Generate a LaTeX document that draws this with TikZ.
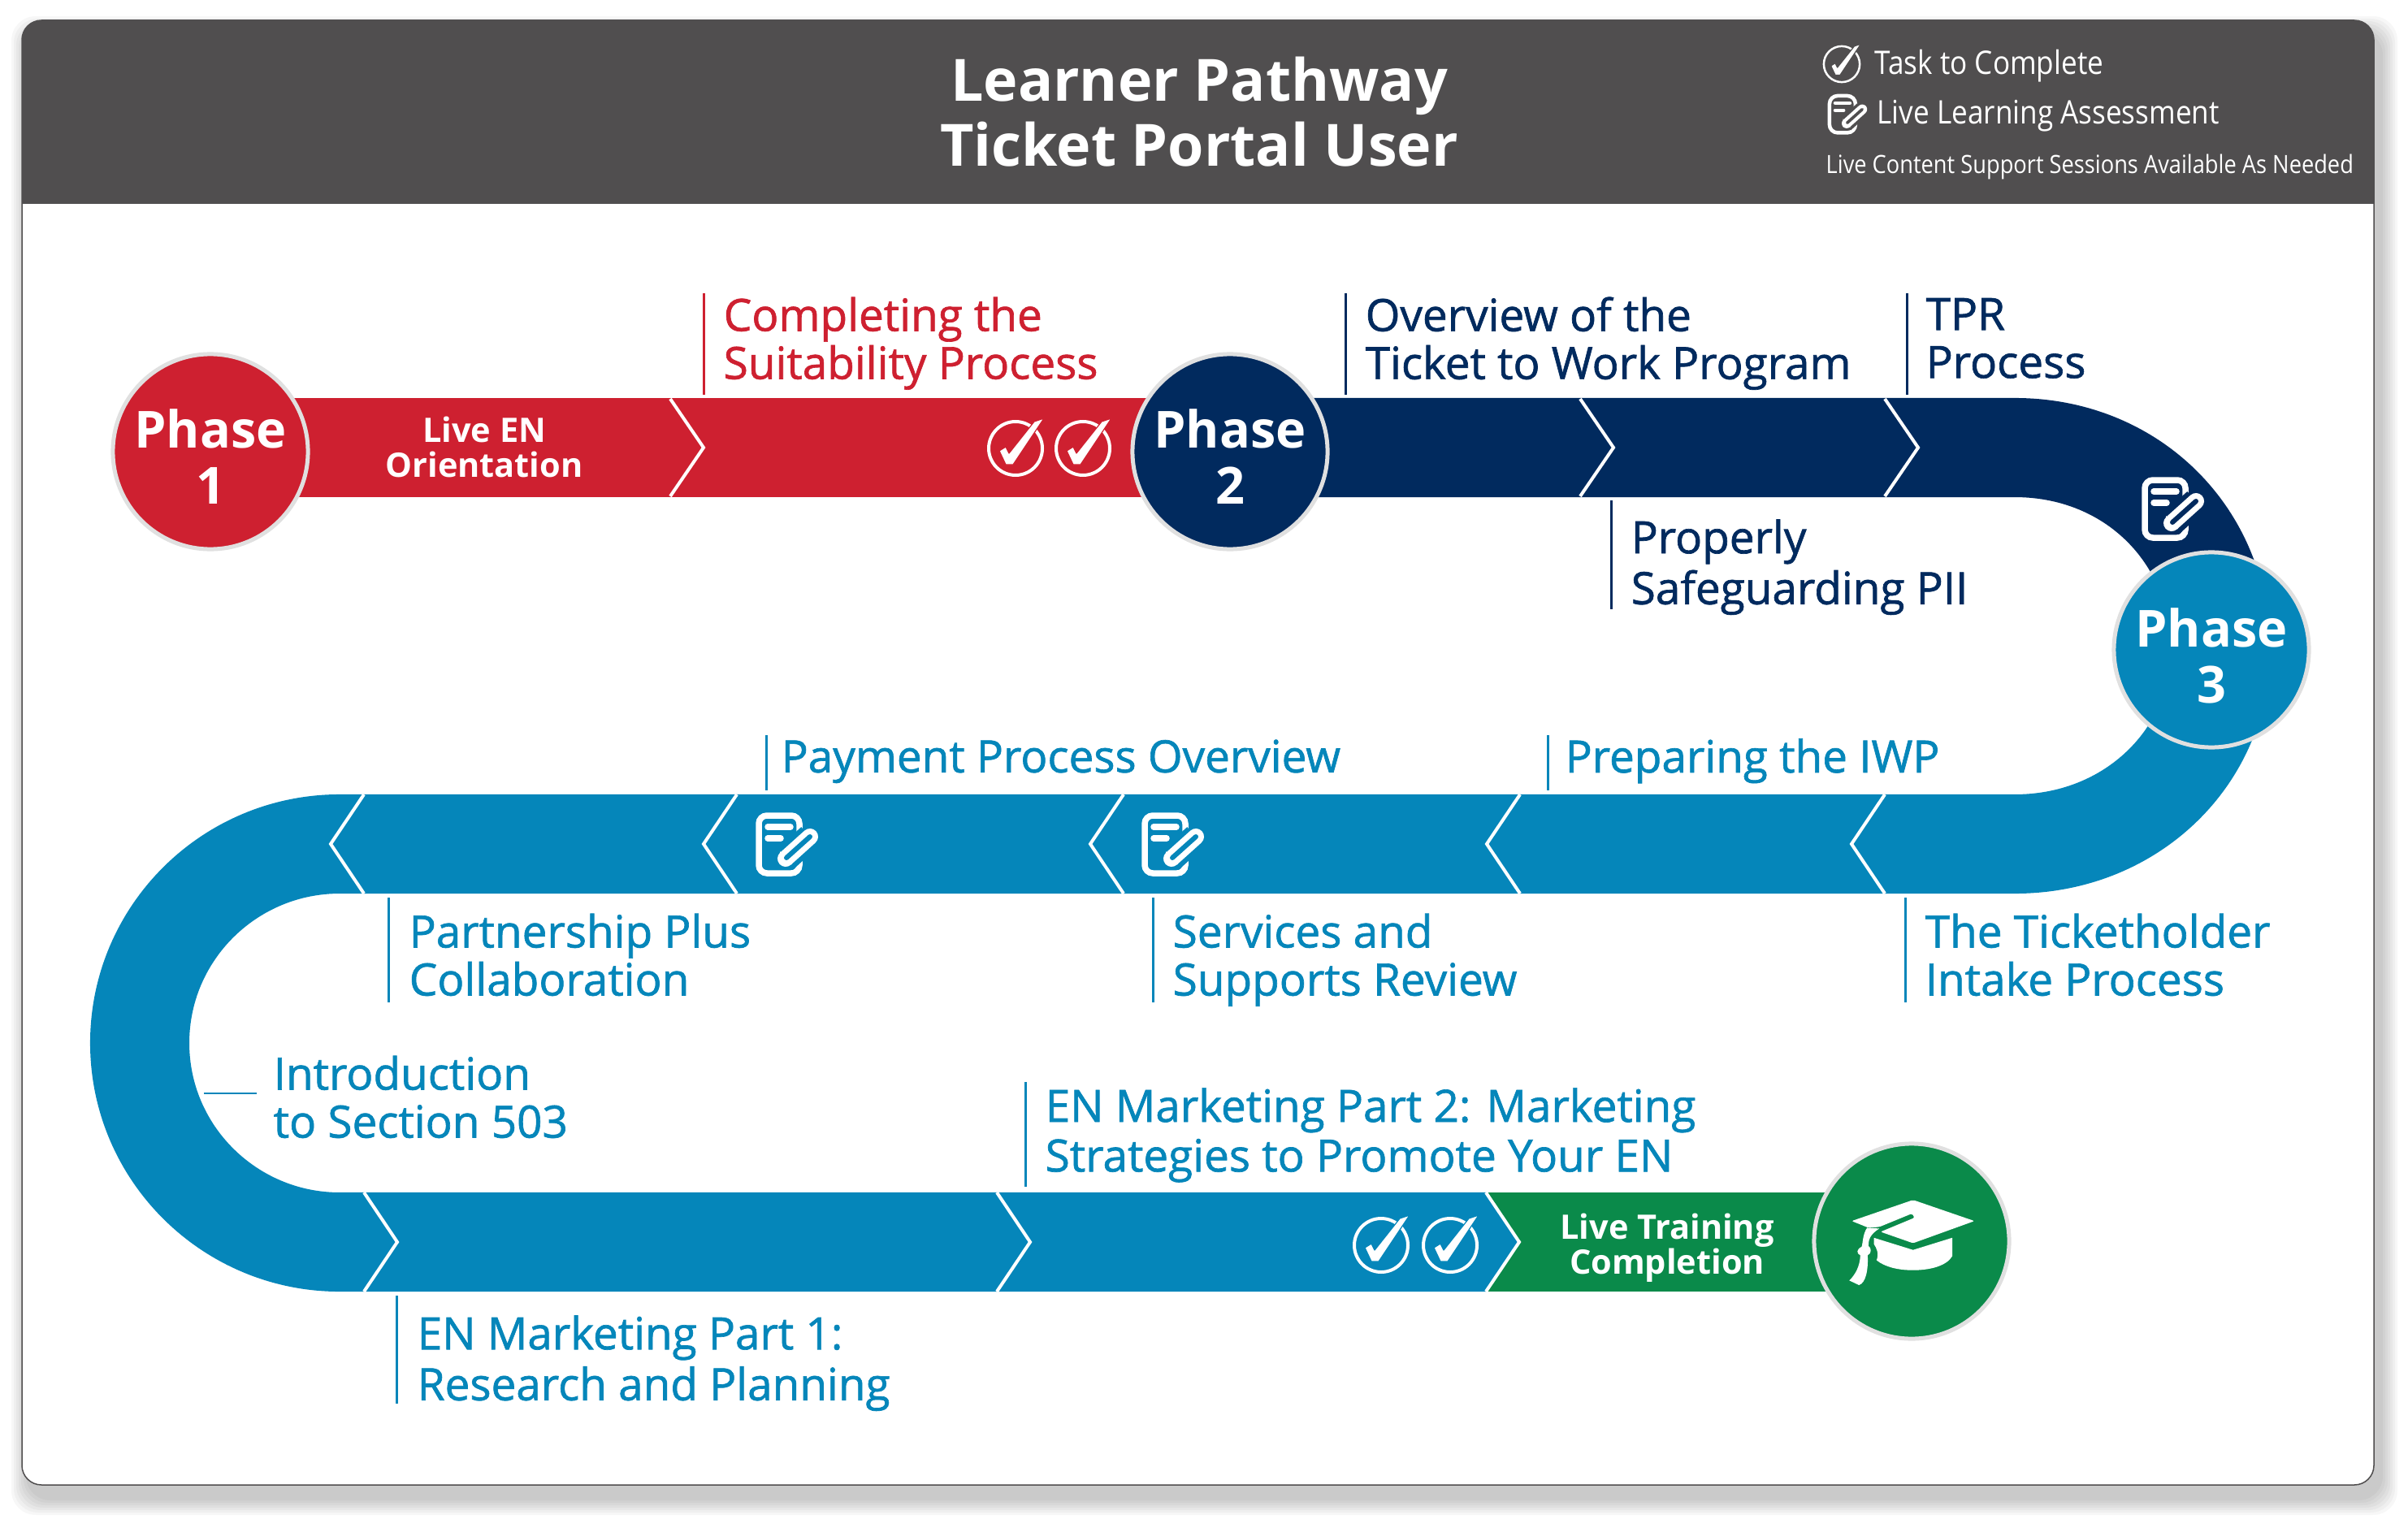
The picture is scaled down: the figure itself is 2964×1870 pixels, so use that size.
\documentclass[tikz,border=0pt]{standalone}
\usepackage{fontspec}
\setmainfont{Open Sans}
\newfontfamily\semifont[FakeBold=1.2]{Open Sans}
\newfontfamily\narrowfont[FakeStretch=0.88]{Open Sans}
\usetikzlibrary{positioning}
\definecolor{hdrgray}{HTML}{504E4F}
\definecolor{ringgray}{HTML}{E0E0E0}
\definecolor{pathred}{HTML}{CE2030}
\definecolor{pathnavy}{HTML}{012A5E}
\definecolor{pathblue}{HTML}{0586BA}
\definecolor{pathgreen}{HTML}{0A8A4A}
\tikzset{
    phase/.style={
           circle,
           draw=ringgray, line width=0.05cm,
           minimum size=2.40cm,
           inner sep=0pt,
           text=white,
           align=center,
           font=\fontsize{17.9}{19.6}\selectfont\bfseries,
           },
    steplabel/.style={
           anchor=west,
           align=left,
           inner ysep=0pt,
           inner xsep=0.24cm,
           execute at begin node=\strut,
           execute at end node=\strut,
           font=\fontsize{15.6}{16.8}\selectfont\semifont,
           },
    barlabel/.style={
           text=white,
           align=center,
           font=\fontsize{11.8}{12.2}\selectfont\bfseries,
           },
    legendlabel/.style={
           anchor=west,
           text=white,
           inner sep=0pt,
           font=\fontsize{11.35}{13}\selectfont\narrowfont,
           },
    ribbon/.style={line width=1.22cm},
    chevron/.style={draw=white, line width=0.04cm},
    pics/tick/.style 2 args={code={
        \draw[white, line width=#2] (0,0) circle (33);
        \fill[white, draw=#1, line width=0.012cm, line join=round]
          (-20,3) -- (-12,20) -- (-3,20) -- (35,-37) -- (23,-33) -- (-8,6) -- (-12,-2) -- cycle;
    }},
    pics/note/.style 2 args={code={
        \draw[white, line width=#2, rounded corners=0.1cm] (-33,-36) rectangle (17,35);
        \draw[white, line width=#2, line cap=round] (-22,-22) -- (6,-22);
        \draw[white, line width=#2, line cap=round] (-22,-8) -- (-6,-8);
        \draw[#1, line width=4.27*#2] (-2,19) -- (30,-10);
        \draw[white, line width=2.67*#2, line cap=round] (0,17) -- (30,-10);
        \fill[white] (-7,8) -- (-7,24) -- (8,24) -- cycle;
        \draw[#1, line width=0.8*#2, line cap=round] (1,16) -- (30,-10);
    }},
}
\begin{document}
\begin{tikzpicture}[x=0.01cm,y=-0.01cm]
 \useasboundingbox (0,0) rectangle (2964,1870);
 % card and header
 \fill[white] (0,0) rectangle (2964,1870);
 \foreach \s in {3,6,...,21}
   \fill[black, opacity=0.03, rounded corners=0.3cm]
     (27+8-\s,25+16-\s) rectangle (2922+8+\s,1828+16+\s);
 \draw[draw=hdrgray, line width=0.015cm, fill=white, rounded corners=0.24cm]
   (27,25) rectangle (2922,1828);
 \fill[hdrgray] (27,251) {[rounded corners=0.24cm] -- (27,25) -- (2922,25)} -- (2922,251) -- cycle;
 \node[text=white, align=center, font=\fontsize{20.4}{22.7}\selectfont\bfseries] (title) at (1476,138)
   {Learner Pathway\\Ticket Portal User};
 \pic[scale=0.67] at (2267,79) {tick={hdrgray}{0.025cm}};
 \pic[scale=0.64] at (2273,141) {note={hdrgray}{0.045cm}};
 \node[legendlabel] (legendtask) at (2307,81) {Task to Complete};
 \node[legendlabel] (legendlive) at (2310,143) {Live Learning Assessment};
 \node[legendlabel, font=\fontsize{8.8}{10}\selectfont\narrowfont] (legendsupport) at (2247,205)
   {Live Content Support Sessions Available As Needed};

 % phase circles, ribbons go under them
 \coordinate (bendtop) at (2480,551);
 \coordinate (bendbot) at (2480,1039);
 \coordinate (bendleft) at (418,1039);
 \coordinate (bendlow) at (418,1529);
 \coordinate (greenstart) at (1829,1529);
 \coordinate (phasethreein) at (2733,800);
 \coordinate (phaseonec) at (259,551);
 \coordinate (phasetwoc) at (1514,551);
 \coordinate (gradc) at (2353,1529);

 \draw[ribbon, pathred] (phaseonec) -- (phasetwoc);
 \draw[ribbon, pathnavy] (phasetwoc) -- (bendtop)
   .. controls (2625,551) and (2733,660) .. (phasethreein);
 \draw[ribbon, pathblue] (phasethreein)
   .. controls (2733,930) and (2625,1039) .. (bendbot) -- (bendleft)
   .. controls (283,1039) and (172,1148) .. (172,1284)
   .. controls (172,1420) and (283,1529) .. (bendlow) -- (greenstart);
 \draw[ribbon, pathgreen] (greenstart) -- (gradc);
 \fill[pathblue] (1829,1468) -- (1871,1529) -- (1829,1590) -- cycle;

 % chevrons
 \foreach \x in {825,1945,2320}
   \draw[chevron] (\x,491) -- (\x+41,551) -- (\x,611);
 \foreach \x in {2320,1871,1383,907,448}
   \draw[chevron] (\x,978) -- (\x-41,1039) -- (\x,1100);
 \foreach \x in {448,1227,1829}
   \draw[chevron] (\x,1468) -- (\x+41,1529) -- (\x,1590);

 % icons on the ribbons
 \pic at (1250,552) {tick={pathred}{0.04cm}};
 \pic at (1333,552) {tick={pathred}{0.04cm}};
 \pic at (1700,1533) {tick={pathblue}{0.04cm}};
 \pic at (1785,1533) {tick={pathblue}{0.04cm}};
 \pic at (2673,627) {note={pathnavy}{0.075cm}};
 \pic at (967,1040) {note={pathblue}{0.075cm}};
 \pic at (1442,1040) {note={pathblue}{0.075cm}};

 \node[barlabel] (orientation) at (596,550) {Live EN\\Orientation};
 \node[barlabel] (completion) at (2052,1536) {Live Training\\Completion};

 \node[phase, fill=pathred] (phaseone) at (259,556) {\rule{0pt}{17.2pt}Phase\\1};
 \node[phase, fill=pathnavy] (phasetwo) at (1514,556) {\rule{0pt}{17.2pt}Phase\\2};
 \node[phase, fill=pathblue] (phasethree) at (2722,800) {\rule{0pt}{18pt}Phase\\3};
 \node[phase, fill=pathgreen] (grad) at (2353,1528) {};

 % mortar board
 \begin{scope}[shift={(2200,1380)},x=0.003333cm,y=-0.003333cm]
  \fill[white, rounded corners=0.02cm] (238,370) -- (465,292) -- (692,370) -- (465,452) -- (345,410)
    -- (470,358) -- (462,342) -- (340,392) -- (300,395) -- cycle;
  \fill[white] (320,432) -- (465,477) -- (610,432) -- (610,500)
    .. controls (590,535) and (530,552) .. (465,552)
    .. controls (410,552) and (360,540) .. (330,515)
    .. controls (340,490) and (330,470) .. (320,455) -- cycle;
  \fill[white] (295,395) .. controls (278,420) and (280,450) .. (275,465)
    .. controls (255,475) and (255,490) .. (270,497)
    .. controls (268,540) and (250,570) .. (229,590) -- (265,607)
    .. controls (290,600) and (300,550) .. (297,497)
    .. controls (312,490) and (312,470) .. (300,462)
    .. controls (300,440) and (305,420) .. (340,398) -- cycle;
 \end{scope}

 % labels with their rules
 \node[steplabel, text=pathred] (completing) at (866,425)
   {Completing the\\Suitability Process};
 \node[steplabel, text=pathnavy] (overview) at (1656,425)
   {Overview of the\\Ticket to Work Program};
 \node[steplabel, text=pathnavy, inner xsep=0.23cm] (tpr) at (2347,425)
   {TPR\\Process};
 \node[steplabel, text=pathnavy, font=\fontsize{15.6}{17.8}\selectfont\semifont] (safeguarding) at (1983,701)
   {Properly\\Safeguarding PII};
 \node[steplabel, text=pathblue, inner xsep=0.18cm] (payment) at (943,939)
   {Payment Process Overview};
 \node[steplabel, text=pathblue, inner xsep=0.21cm] (iwp) at (1905,939)
   {Preparing the IWP};
 \node[steplabel, text=pathblue, inner xsep=0.25cm] (partnership) at (478,1184)
   {Partnership Plus\\Collaboration};
 \node[steplabel, text=pathblue] (services) at (1419,1184)
   {Services and\\Supports Review};
 \node[steplabel, text=pathblue] (intake) at (2345,1184)
   {The Ticketholder\\Intake Process};
 \node[steplabel, text=pathblue, inner xsep=0.20cm] (section) at (316,1359)
   {Introduction\\to Section 503};
 \node[steplabel, text=pathblue, font=\fontsize{15.6}{17.4}\selectfont\semifont] (markettwo) at (1262,1400)
   {EN Marketing Part 2: Marketing\\Strategies to Promote Your EN};
 \node[steplabel, text=pathblue, inner xsep=0.25cm, font=\fontsize{15.6}{17.8}\selectfont\semifont] (marketone) at (488,1681)
   {EN Marketing Part 1:\\Research and Planning};

 \foreach \n/\c/\t/\b in {completing/pathred/361/486,overview/pathnavy/361/486,tpr/pathnavy/361/486,
    safeguarding/pathnavy/616/750,payment/pathblue/905/973,iwp/pathblue/905/973,
    partnership/pathblue/1105/1234,services/pathblue/1105/1234,intake/pathblue/1105/1234,
    markettwo/pathblue/1332/1461,marketone/pathblue/1595/1728}
   \draw[\c, line width=0.03cm] (\n.west |- 0,\t) -- (\n.west |- 0,\b);
 \coordinate (sectionend) at (251,1346);
 \draw[pathblue, line width=0.025cm] (section.west |- sectionend) -- (sectionend);
\end{tikzpicture}
\end{document}
